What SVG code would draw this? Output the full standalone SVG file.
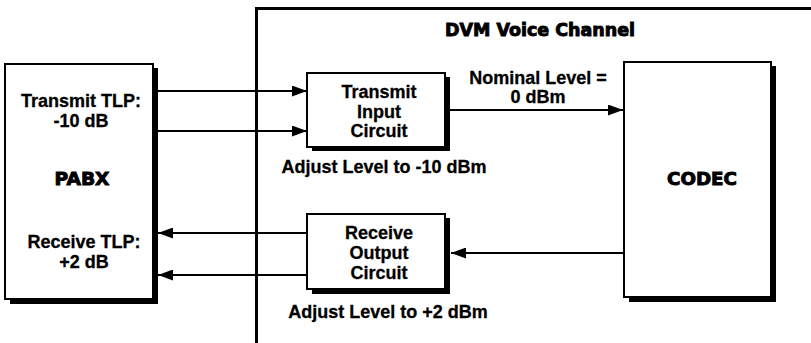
<svg xmlns="http://www.w3.org/2000/svg" width="811" height="343" viewBox="0 0 811 343">
<style>
.box{fill:#fff;stroke:#000;stroke-width:2}
.sh{fill:#000}
.t{font-family:"Liberation Sans",Arial,sans-serif;font-weight:bold;font-size:18px;fill:#000;stroke:#000;stroke-width:0.3;text-anchor:middle}
.h{font-family:"DejaVu Sans",sans-serif;font-weight:bold;font-size:17px;fill:#000;stroke:#000;stroke-width:0.9;text-anchor:middle}
.ln{stroke:#000;stroke-width:2;fill:none}
</style>
<defs>
<marker id="ah" viewBox="0 0 15 11" refX="15" refY="5.5" markerWidth="15" markerHeight="11" markerUnits="userSpaceOnUse" orient="auto">
<path d="M0,0 L15,5.5 L0,11 Z" fill="#000"/>
</marker>
</defs>
<g id="frame">
<path d="M256.5,343 V8.5 H811" stroke="#000" stroke-width="3" fill="none"/>
<text class="h" x="540" y="36" textLength="190" lengthAdjust="spacingAndGlyphs">DVM Voice Channel</text>
</g>
<g id="pabx">
<rect class="sh" x="10" y="68" width="148" height="236"/>
<rect class="box" x="5" y="64" width="148" height="235"/>
<text class="t" x="81" y="107">Transmit TLP:</text>
<text class="t" x="81" y="127">-10 dB</text>
<text class="h" x="82" y="185" textLength="55" lengthAdjust="spacingAndGlyphs">PABX</text>
<text class="t" x="84" y="248">Receive TLP:</text>
<text class="t" x="84" y="268">+2 dB</text>
</g>
<g id="transmit">
<rect class="sh" x="312" y="77" width="138" height="74"/>
<rect class="box" x="307" y="73" width="138" height="74"/>
<text class="t" x="379" y="98">Transmit</text>
<text class="t" x="379" y="117.5">Input</text>
<text class="t" x="379" y="137">Circuit</text>
<text class="t" x="384" y="173">Adjust Level to -10 dBm</text>
</g>
<g id="receive">
<rect class="sh" x="312" y="218" width="138" height="76"/>
<rect class="box" x="307" y="214" width="138" height="75"/>
<text class="t" x="379" y="239">Receive</text>
<text class="t" x="379" y="259">Output</text>
<text class="t" x="379" y="279">Circuit</text>
<text class="t" x="388" y="318">Adjust Level to +2 dBm</text>
</g>
<g id="codec">
<rect class="sh" x="629" y="66" width="147" height="236"/>
<rect class="box" x="624" y="62" width="147" height="235"/>
<text class="h" x="702" y="185" textLength="70" lengthAdjust="spacingAndGlyphs">CODEC</text>
</g>
<g id="connectors">
<line class="ln" x1="158" y1="91" x2="307" y2="91" marker-end="url(#ah)"/>
<line class="ln" x1="158" y1="131" x2="307" y2="131" marker-end="url(#ah)"/>
<line class="ln" x1="450" y1="110" x2="623" y2="110" marker-end="url(#ah)"/>
<line class="ln" x1="307" y1="233" x2="158" y2="233" marker-end="url(#ah)"/>
<line class="ln" x1="307" y1="275" x2="158" y2="275" marker-end="url(#ah)"/>
<line class="ln" x1="624" y1="253" x2="451" y2="253" marker-end="url(#ah)"/>
<text class="t" x="538" y="84">Nominal Level =</text>
<text class="t" x="538" y="103">0 dBm</text>
</g>
</svg>
